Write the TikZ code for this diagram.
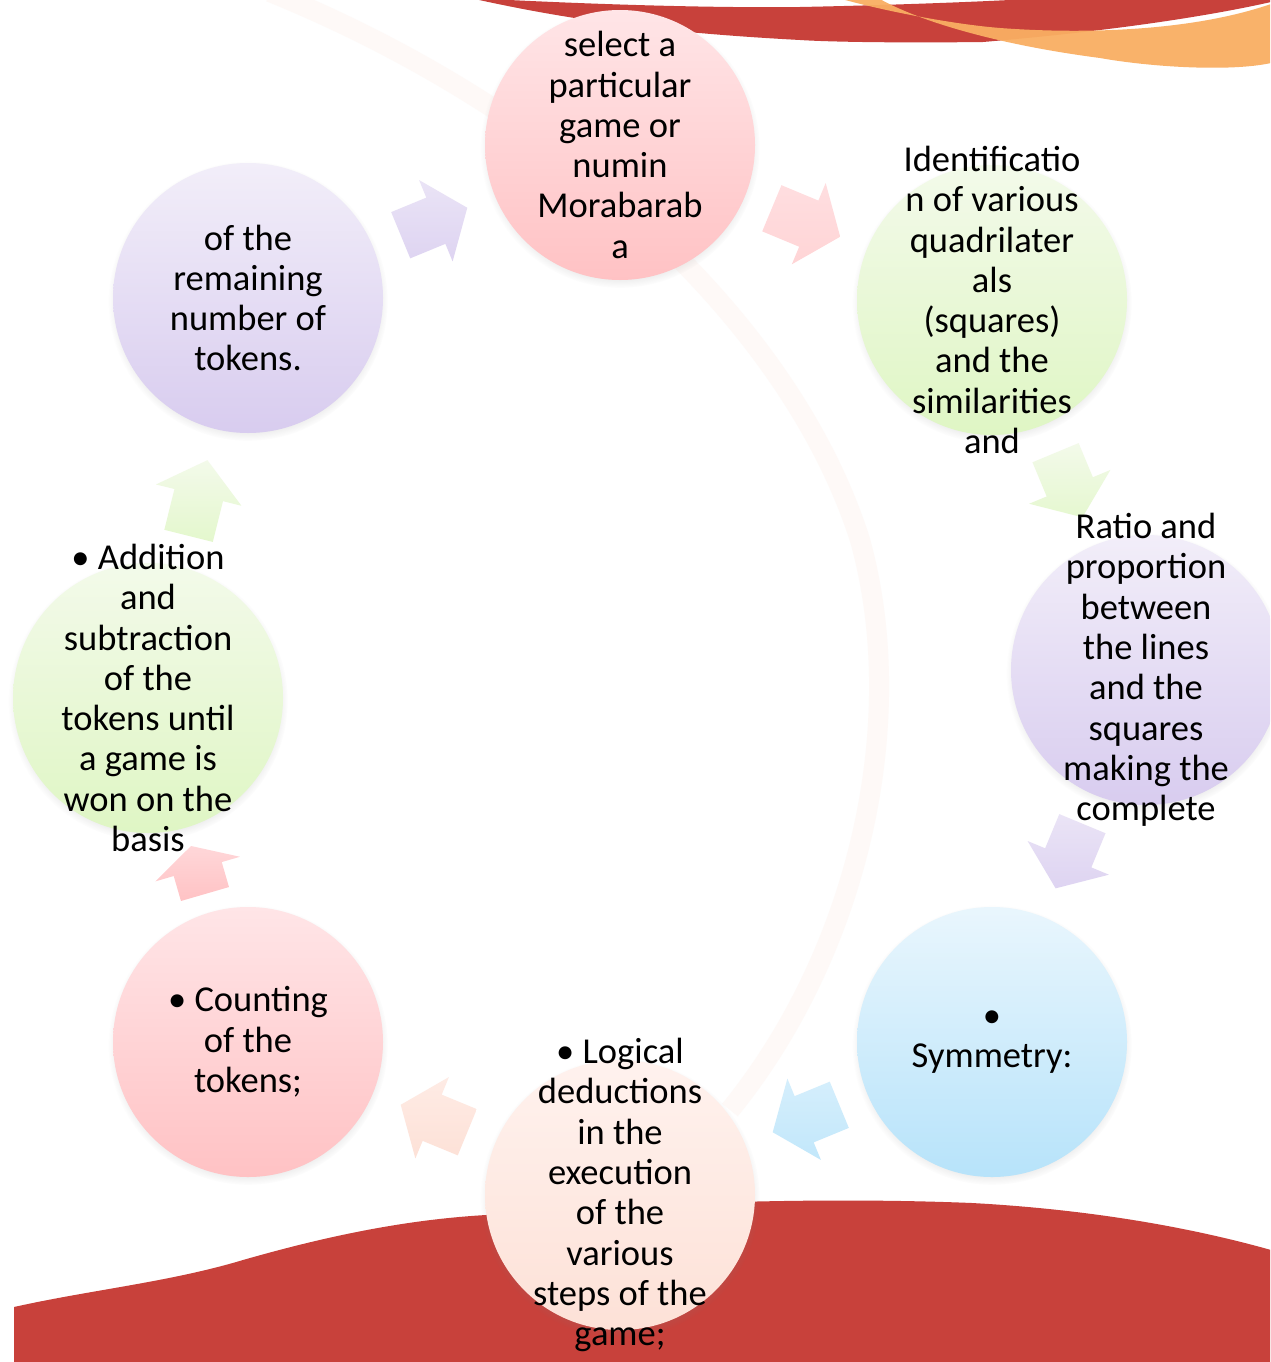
\documentclass[tikz,border=0pt]{standalone}
\usepackage{fontspec}
\setmainfont{Carlito}
\usetikzlibrary{calc,shadows,fadings}
\definecolor{redband}{HTML}{C8413B}
\definecolor{orng}{HTML}{F9AE62}
\definecolor{swoosh}{HTML}{FEF9F7}
\definecolor{pinkT}{HTML}{FFE5E7}
\definecolor{pinkB}{HTML}{FFC2C4}
\definecolor{greenT}{HTML}{F3FAEA}
\definecolor{greenB}{HTML}{DFF6C4}
\definecolor{purpT}{HTML}{F2EEF9}
\definecolor{purpB}{HTML}{D8CCEF}
\definecolor{blueT}{HTML}{E9F6FD}
\definecolor{blueB}{HTML}{B7E3FA}
\definecolor{peachT}{HTML}{FFF2EE}
\definecolor{peachB}{HTML}{FDE1D7}
\tikzset{
  bub/.style={circle, minimum size=270pt, inner sep=0pt,
    circular drop shadow={shadow xshift=0pt, shadow yshift=-3pt, shadow scale=1.035, opacity=0.3}},
  txt/.style={align=center, inner sep=0pt, text=black,
    font=\fontsize{36.5}{40.3}\selectfont},
  pics/barrow/.style args={#1/#2/#3/#4}{code={
    \shade[top color=#1, bottom color=#2]
      (-#3,-25) -- (#4,-25) -- (#4,-44) -- (#3,0) -- (#4,44) -- (#4,25) -- (-#3,25) -- cycle;}}
}
\begin{document}
\begin{tikzpicture}[x=1pt,y=-1pt]
\useasboundingbox (0,0) rectangle (1270,1362);
\clip (0,0) rectangle (1270,1362);
\fill[white] (0,0) rectangle (1270,1362);
% faint swoosh
\draw[line width=20pt, color=swoosh] (270,-8) .. controls (560,110) and (790,320) .. (860,540) .. controls (910,720) and (860,950) .. (730,1110);
% top bands
\fill[redband] (470,-2) .. controls (600,5) and (720,8) .. (800,7) .. controls (900,5) and (1000,1) .. (1045,-2) -- (1271,-2) -- (1271,2) .. controls (1200,18) and (1100,32) .. (983,42) .. controls (900,43) and (830,42) .. (800,40) .. controls (650,32) and (560,18) .. (470,-2) -- cycle;
\fill[orng, opacity=0.95] (838,-2) .. controls (880,10) and (950,24) .. (1000,28) .. controls (1080,34) and (1190,32) .. (1271,4) -- (1271,63) .. controls (1230,72) and (1150,67) .. (1100,58) .. controls (1000,45) and (920,22) .. (878,-2) -- cycle;
% bottom wave
\fill[redband] (14,1307) .. controls (90,1290) and (170,1282) .. (243,1260) .. controls (320,1238) and (400,1220) .. (486,1215) .. controls (620,1205) and (800,1196) .. (972,1203) .. controls (1100,1210) and (1200,1230) .. (1271,1250) -- (1271,1363) -- (14,1363) -- cycle;
% circles
\node[bub, top color=pinkT, bottom color=pinkB] (n1) at (620,145) {};
\node[bub, top color=greenT, bottom color=greenB] (n2) at (992,300) {};
\node[bub, top color=purpT, bottom color=purpB] (n3) at (1146,670) {};
\node[bub, top color=blueT, bottom color=blueB] (n4) at (992,1042) {};
\node[bub, top color=peachT, bottom color=peachB] (n5) at (620,1195) {};
\node[bub, top color=pinkT, bottom color=pinkB] (n6) at (248,1042) {};
\node[bub, top color=greenT, bottom color=greenB] (n7) at (148,698) {};
\node[bub, top color=purpT, bottom color=purpB] (n8) at (248,298) {};
% arrows
\pic[rotate=-22.6] at ($(n1)!0.5!(n2)$) {barrow={pinkT!80!pinkB/pinkB!70!white/37/3}};
\pic[rotate=-67.4] at ($(n2)!0.5!(n3)$) {barrow={greenT/greenB!80!white/35/2}};
\pic[rotate=-112.5] at ($(n3)!0.5!(n4)$) {barrow={purpT!70!purpB/purpB!85!white/35/2}};
\pic[rotate=-157.6] at ($(n4)!0.5!(n5)$) {barrow={blueT!60!blueB/blueB!85!white/36/2}};
\pic[rotate=157.6] at ($(n5)!0.5!(n6)$) {barrow={peachT!60!peachB/peachB/36/2}};
\pic[rotate=106.2] at ($(n6)!0.5!(n7)$) {barrow={pinkT!60!pinkB/pinkB/25/1}};
\pic[rotate=76] at ($(n7)!0.5!(n8)$) {barrow={greenT/greenB!85!white/39/3}};
\pic[rotate=22.4] at ($(n8)!0.5!(n1)$) {barrow={purpT!70!purpB/purpB!85!white/36/2}};
% texts
\node[txt] (t1) at (n1) {select a\\particular\\game or\\numin\\Morabarab\\a};
\node[txt] (t2) at (n2) {Identificatio\\n of various\\quadrilater\\als\\(squares)\\and the\\similarities\\and};
\node[txt] (t3) at (n3) {Ratio and\\proportion\\between\\the lines\\and the\\squares\\making the\\complete};
\node[txt] (t4) at (n4) {•\\Symmetry:};
\node[txt] (t5) at (n5) {• Logical\\deductions\\in the\\execution\\of the\\various\\steps of the\\game;};
\node[txt] (t6) at (n6) {• Counting\\of the\\tokens;};
\node[txt] (t7) at (n7) {• Addition\\and\\subtraction\\of the\\tokens until\\a game is\\won on the\\basis};
\node[txt] (t8) at (n8) {of the\\remaining\\number of\\tokens.};
\end{tikzpicture}
\end{document}
